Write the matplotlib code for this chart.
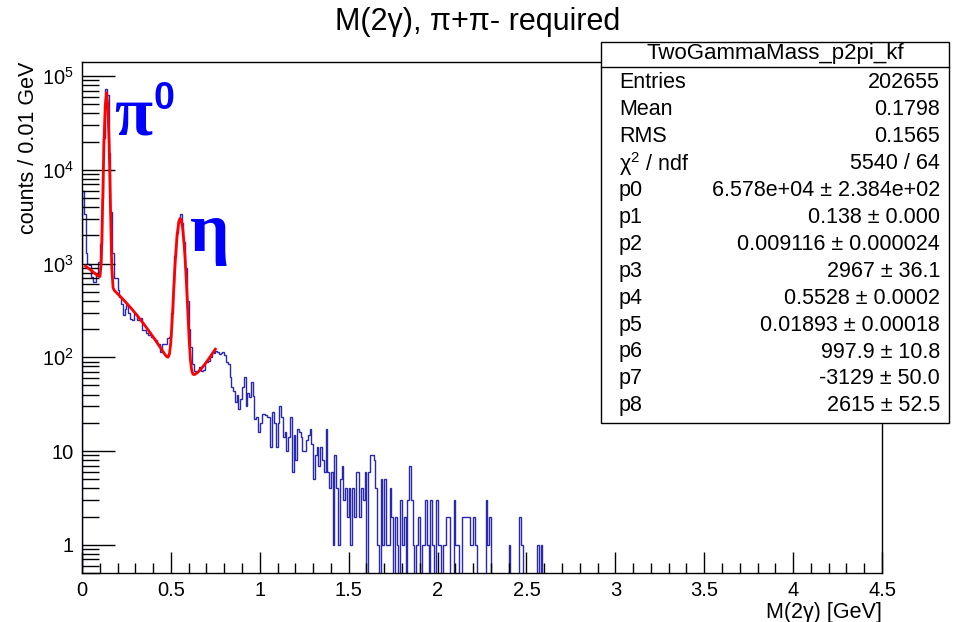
import numpy as np
import matplotlib.pyplot as plt
from matplotlib.lines import Line2D
from matplotlib.patches import Rectangle

plt.rcParams['font.family'] = ['Liberation Sans', 'DejaVu Sans']
plt.rcParams['mathtext.fontset'] = 'custom'
plt.rcParams['mathtext.rm'] = 'Liberation Sans'
plt.rcParams['mathtext.it'] = 'Liberation Sans:italic'

# histogram: counts per 0.01 GeV bin starting at 0
bin_width = 0.01
n_bins = 450
counts = [
    5900, 3400, 1300, 1000, 960, 720, 630, 640, 780, 1050,          # 0.00
    1600, 5000, 22000, 72000, 62000, 15000, 3500, 1300, 700, 700,   # 0.10
    520, 440, 370, 285, 330, 360, 300, 258, 250, 290,               # 0.20
    290, 250, 250, 265, 194, 194, 180, 172, 172, 165,               # 0.30
    160, 152, 140, 140, 115, 140, 140, 140, 160, 165,               # 0.40
    300, 600, 1200, 2100, 2900, 3400, 2700, 1700, 900, 400,         # 0.50
    200, 130, 85, 72, 70, 72, 78, 72, 74, 88,                       # 0.60
    88, 92, 100, 114, 112, 118, 115, 108, 112, 115,                 # 0.70
    105, 89, 85, 62, 48, 44, 33, 40, 28, 36,                        # 0.80
    48, 61, 30, 42, 38, 54, 39, 22, 23, 16,                         # 0.90
    20, 25, 25, 24, 23, 23, 11, 26, 20, 11,                         # 1.00
    20, 30, 23, 14, 16, 10, 14, 23, 6, 15,                          # 1.10
    8, 17, 16, 14, 10, 10, 13, 15, 17, 12,                          # 1.20
    5, 9, 11, 7, 11, 8, 6, 17, 6, 4,                                # 1.30
    6, 1, 9, 4, 1, 5, 7, 3, 4, 2,                                   # 1.40
    4, 1, 4, 2, 6, 6, 2, 4, 3, 6,                                   # 1.50
    0, 6, 9, 9, 8, 4, 1, 0, 5, 1,                                   # 1.60
    5, 1, 1, 4, 2, 0, 2, 1, 0, 3,                                   # 1.70
    1, 2, 0, 3, 7, 3, 1, 0, 1, 2,                                   # 1.80
    0, 1, 1, 3, 1, 0, 3, 1, 0, 3,                                   # 1.90
    1, 1, 0, 1, 1, 2, 2, 0, 0, 3,                                   # 2.00
    1, 1, 0, 0, 2, 2, 2, 2, 1, 1,                                   # 2.10
    2, 1, 0, 0, 0, 0, 0, 3, 1, 2,                                   # 2.20
    0, 0, 0, 0, 0, 0, 0, 0, 0, 0,                                   # 2.30
    1, 0, 0, 0, 0, 0, 2, 1, 0, 0,                                   # 2.40
    0, 0, 0, 0, 0, 0, 1, 0, 1,                                      # 2.50
]

# fit: gaus(p0,p1,p2) + gaus(p3,p4,p5) + pol2(p6,p7,p8)
fit_params = [6.578e4, 0.138, 0.009116, 2967, 0.5528, 0.01893, 997.9, -3129, 2615]
fit_range = (0.02, 0.75)

stats_name = 'TwoGammaMass_p2pi_kf'
stats_labels = ['Entries', 'Mean', 'RMS', 'χ$^{2}$ / ndf',
                'p0', 'p1', 'p2', 'p3', 'p4', 'p5', 'p6', 'p7', 'p8']
stats_values = ['202655', '0.1798', '0.1565', '5540 / 64',
                '6.578e+04 ± 2.384e+02', '0.138 ± 0.000',
                '0.009116 ± 0.000024', '2967 ± 36.1', '0.5528 ± 0.0002',
                '0.01893 ± 0.00018', '997.9 ± 10.8', '-3129 ± 50.0',
                '2615 ± 52.5']

W, H = 955, 622
fig = plt.figure(figsize=(W / 100, H / 100), dpi=100)
ax = fig.add_axes([82 / W, 1 - 573 / H, 800 / W, 511 / H])

hist = np.zeros(n_bins)
hist[:len(counts)] = counts
edges = np.arange(n_bins + 1) * bin_width
ax.stairs(np.where(hist > 0, hist, 0.05), edges, baseline=0.05,
          color='#2828b0', lw=1.0)

p = fit_params
xf = np.linspace(fit_range[0], fit_range[1], 100)
yf = (p[0] * np.exp(-0.5 * ((xf - p[1]) / p[2]) ** 2)
      + p[3] * np.exp(-0.5 * ((xf - p[4]) / p[5]) ** 2)
      + p[6] + p[7] * xf + p[8] * xf ** 2)
ax.plot(xf, yf, color='red', lw=2)

ax.set_yscale('log')
ax.set_xlim(0, 4.5)
ax.set_ylim(0.5, 1.41e5)
ax.set_xticks(np.arange(0, 4.51, 0.5))
ax.set_xticklabels(['0', '0.5', '1', '1.5', '2', '2.5', '3', '3.5', '4', '4.5'])
ax.set_xticks(np.arange(0, 4.51, 0.1), minor=True)
ax.set_yticks([1, 10, 1e2, 1e3, 1e4, 1e5])
ax.set_yticklabels(['1', '10', '$10^{2}$', '$10^{3}$', '$10^{4}$', '$10^{5}$'])
ax.tick_params(which='both', direction='in', top=False, right=False,
               labelsize=14.5, width=1)
ax.tick_params(axis='x', which='major', length=15, pad=6)
ax.tick_params(axis='x', which='minor', length=7)
ax.tick_params(axis='y', which='major', length=24, pad=6)
ax.tick_params(axis='y', which='minor', length=12, labelleft=False)
for s in ax.spines.values():
    s.set_linewidth(1)

ax.set_xlabel('M(2γ) [GeV]', fontsize=15.5, loc='right', labelpad=1)
ax.set_ylabel('counts / 0.01 GeV', fontsize=15.5, loc='top', labelpad=2)

fig.text(478 / W, 1 - 22 / H, 'M(2γ), π+π- required', fontsize=22,
         ha='center', va='center')

# peak labels
ax.text(0.18, 2.35e4, 'π', fontsize=50, family='Liberation Serif',
        weight='bold', color='blue', va='baseline')
ax.text(0.40, 4.4e4, '0', fontsize=27, family='Liberation Sans',
        weight='bold', color='blue', va='baseline')
ax.text(0.605, 1.35e3, 'η', fontsize=50, family='Liberation Serif',
        weight='bold', color='blue', va='baseline')

# statistics box
bx0, bx1, by0, by1 = 601, 949, 42, 423
fig.add_artist(Rectangle((bx0 / W, 1 - by1 / H), (bx1 - bx0) / W,
                         (by1 - by0) / H, transform=fig.transFigure,
                         facecolor='white', edgecolor='black', lw=1))
fig.add_artist(Line2D([bx0 / W, bx1 / W], [1 - 67 / H, 1 - 67 / H],
                      transform=fig.transFigure, color='black', lw=1))
fig.text((bx0 + bx1) / 2 / W, 1 - 54 / H, stats_name, fontsize=16,
         ha='center', va='center')
for i, (lab, val) in enumerate(zip(stats_labels, stats_values)):
    yy = 1 - (83 + 26.9 * i) / H
    fig.text(619 / W, yy, lab, fontsize=15.5, ha='left', va='center')
    fig.text(940 / W, yy, val, fontsize=15.5, ha='right', va='center')

fig.savefig('out.png', dpi=100)
